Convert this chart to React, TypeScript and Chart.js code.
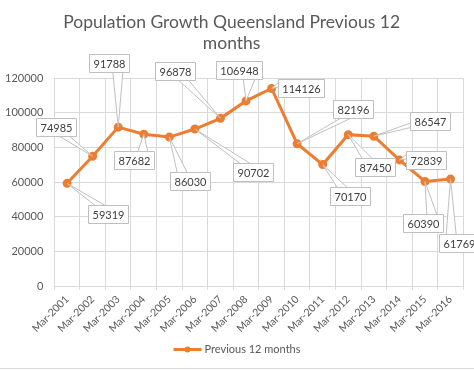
import React, { useEffect, useRef } from 'react';
import { Chart, registerables } from 'chart.js';

Chart.register(...registerables);

const categories = [
  'Mar-2001', 'Mar-2002', 'Mar-2003', 'Mar-2004', 'Mar-2005', 'Mar-2006', 'Mar-2007', 'Mar-2008',
  'Mar-2009', 'Mar-2010', 'Mar-2011', 'Mar-2012', 'Mar-2013', 'Mar-2014', 'Mar-2015', 'Mar-2016',
];
const values = [
  59319, 74985, 91788, 87682, 86030, 90702, 96878, 106948,
  114126, 82196, 70170, 87450, 86547, 72839, 60390, 61769,
];
const seriesName = 'Previous 12 months';
const titleLines = ['Population Growth Queensland Previous 12', 'months'];
const yMin = 0;
const yMax = 120000;
const yStep = 20000;

// Callout box centre offsets (px) from each data point
const labelOffsets: [number, number][] = [
  [41, 31], [-37, -29], [-9, -64], [-10, 26], [21, 44], [58, 43], [-45, -47], [-7, -31],
  [29, -0.5], [56, -35], [27, 31], [27, 32], [56, -15], [27, 0], [-2, 42], [8, 64],
];

const FONT = 'Lato';
const ORANGE = '#ED7D31';
const GRID = '#D9D9D9';
const TEXT = '#595959';

const calloutPlugin = {
  id: 'callouts',
  afterDatasetsDraw(chart: any) {
    const meta = chart.getDatasetMeta(0);
    const ctx = chart.ctx as CanvasRenderingContext2D;
    ctx.save();
    ctx.font = `11px ${FONT}`;
    ctx.textAlign = 'center';
    ctx.textBaseline = 'middle';
    meta.data.forEach((pt: any, i: number) => {
      const px = pt.x;
      const py = pt.y;
      const text = String(values[i]);
      const tw = ctx.measureText(text).width;
      const w = Math.round(tw + 8);
      const h = 18;
      const cx = px + labelOffsets[i][0];
      const cy = py + labelOffsets[i][1];
      const l = Math.round(cx - w / 2) + 0.5;
      const t = Math.round(cy - h / 2) + 0.5;
      const dxPos = px - (l + w / 2);
      const dyPos = py - (t + h / 2);
      const dq = (dxPos * h) / w;
      let b1: [number, number];
      let b2: [number, number];
      if (Math.abs(dq) > Math.abs(dyPos)) {
        const sx = dxPos > 0 ? l + w : l;
        const g1 = dyPos > 0 ? 7 : 2;
        const g2 = dyPos > 0 ? 10 : 5;
        b1 = [sx, t + (h * g1) / 12];
        b2 = [sx, t + (h * g2) / 12];
      } else {
        const sy = dyPos > 0 ? t + h : t;
        const g1 = dxPos > 0 ? 7 : 2;
        const g2 = dxPos > 0 ? 10 : 5;
        b1 = [l + (w * g1) / 12, sy];
        b2 = [l + (w * g2) / 12, sy];
      }
      ctx.strokeStyle = '#BFBFBF';
      ctx.lineWidth = 1;
      ctx.fillStyle = '#FFFFFF';
      ctx.beginPath();
      ctx.moveTo(b1[0], b1[1]);
      ctx.lineTo(px, py);
      ctx.lineTo(b2[0], b2[1]);
      ctx.closePath();
      ctx.fill();
      ctx.stroke();
      ctx.beginPath();
      ctx.rect(l, t, w, h);
      ctx.fill();
      ctx.stroke();
      ctx.fillStyle = '#404040';
      ctx.fillText(text, l + w / 2, t + h / 2 + 0.5);
    });
    ctx.restore();
  },
  afterDraw(chart: any) {
    const ctx = chart.ctx as CanvasRenderingContext2D;
    ctx.save();
    // legend
    ctx.font = `11px ${FONT}`;
    const tw = ctx.measureText(seriesName).width;
    const sample = 28;
    const gap = 3;
    const total = sample + gap + tw;
    const x0 = chart.width / 2 - total / 2;
    const ly = 349.5;
    ctx.strokeStyle = ORANGE;
    ctx.lineWidth = 3;
    ctx.beginPath();
    ctx.moveTo(x0, ly);
    ctx.lineTo(x0 + sample, ly);
    ctx.stroke();
    ctx.fillStyle = ORANGE;
    ctx.beginPath();
    ctx.arc(x0 + sample / 2, ly, 3, 0, Math.PI * 2);
    ctx.fill();
    ctx.fillStyle = TEXT;
    ctx.textAlign = 'left';
    ctx.textBaseline = 'middle';
    ctx.fillText(seriesName, x0 + sample + gap, ly);
    // outer border bottom
    ctx.strokeStyle = GRID;
    ctx.lineWidth = 1;
    ctx.beginPath();
    ctx.moveTo(0, 368.5);
    ctx.lineTo(chart.width, 368.5);
    ctx.stroke();
    ctx.restore();
  },
};

export default function App() {
  const ref = useRef<HTMLCanvasElement | null>(null);
  useEffect(() => {
    document.body.style.margin = '0';
    const canvas = ref.current;
    if (!canvas) return;
    const chart = new Chart(canvas, {
      type: 'line',
      data: {
        labels: categories,
        datasets: [
          {
            label: seriesName,
            data: values,
            borderColor: ORANGE,
            backgroundColor: ORANGE,
            borderWidth: 3,
            pointRadius: 3,
            pointBackgroundColor: ORANGE,
            pointBorderColor: ORANGE,
            tension: 0,
            fill: false,
          },
        ],
      },
      options: {
        animation: false,
        responsive: false,
        devicePixelRatio: 1,
        layout: { padding: { left: 0, right: 10.7, top: 0, bottom: 34 } },
        plugins: {
          legend: { display: false },
          tooltip: { enabled: false },
          title: {
            display: true,
            text: titleLines,
            color: TEXT,
            font: { family: FONT, size: 17.5, weight: '400', lineHeight: '21px' } as any,
            padding: { top: 11.5, bottom: 24.8 },
          },
        },
        scales: {
          x: {
            offset: true,
            grid: { offset: true, color: GRID, tickLength: 4, drawTicks: true },
            border: { color: GRID },
            ticks: {
              autoSkip: false,
              maxRotation: 45,
              minRotation: 45,
              color: TEXT,
              font: { family: FONT, size: 10.5 },
              padding: 3,
            },
            afterFit: (s: any) => {
              s.height = 50;
            },
          },
          y: {
            min: yMin,
            max: yMax,
            ticks: {
              stepSize: yStep,
              color: TEXT,
              font: { family: FONT, size: 11 },
              padding: 11,
              callback: (v: any) => String(v),
            },
            grid: { color: GRID, drawTicks: false },
            border: { display: false },
            afterFit: (s: any) => {
              s.width = 54.3;
            },
          },
        },
      },
      plugins: [calloutPlugin],
    });
    return () => chart.destroy();
  }, []);
  return <canvas ref={ref} width={474} height={370} style={{ display: 'block' }} />;
}
